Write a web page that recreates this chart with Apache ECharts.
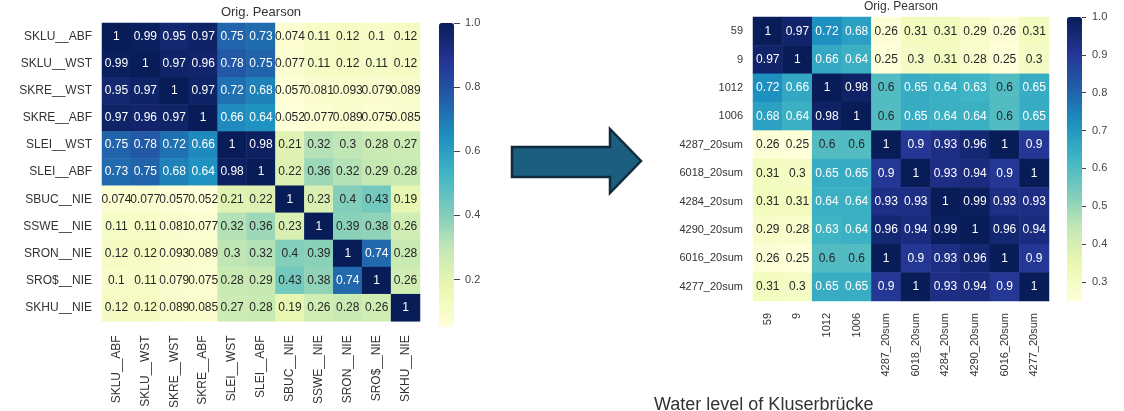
<!DOCTYPE html>
<html><head><meta charset="utf-8">
<script src="https://cdn.jsdelivr.net/npm/echarts@6/dist/echarts.min.js"></script>
<style>html,body{margin:0;padding:0;background:#fff;}#c{width:1124px;height:411px;}</style>
</head><body><div id="c"></div>
<script>
// ---- data ----
var leftLabels = ['SKLU__ABF','SKLU__WST','SKRE__WST','SKRE__ABF','SLEI__WST','SLEI__ABF','SBUC__NIE','SSWE__NIE','SRON__NIE','SRO$__NIE','SKHU__NIE'];
var leftMatrix = [
  [1,0.99,0.95,0.97,0.75,0.73,0.074,0.11,0.12,0.1,0.12],
  [0.99,1,0.97,0.96,0.78,0.75,0.077,0.11,0.12,0.11,0.12],
  [0.95,0.97,1,0.97,0.72,0.68,0.057,0.081,0.093,0.079,0.089],
  [0.97,0.96,0.97,1,0.66,0.64,0.052,0.077,0.089,0.075,0.085],
  [0.75,0.78,0.72,0.66,1,0.98,0.21,0.32,0.3,0.28,0.27],
  [0.73,0.75,0.68,0.64,0.98,1,0.22,0.36,0.32,0.29,0.28],
  [0.074,0.077,0.057,0.052,0.21,0.22,1,0.23,0.4,0.43,0.19],
  [0.11,0.11,0.081,0.077,0.32,0.36,0.23,1,0.39,0.38,0.26],
  [0.12,0.12,0.093,0.089,0.3,0.32,0.4,0.39,1,0.74,0.28],
  [0.1,0.11,0.079,0.075,0.28,0.29,0.43,0.38,0.74,1,0.26],
  [0.12,0.12,0.089,0.085,0.27,0.28,0.19,0.26,0.28,0.26,1]
];
var rightLabels = ['59','9','1012','1006','4287_20sum','6018_20sum','4284_20sum','4290_20sum','6016_20sum','4277_20sum'];
var rightMatrix = [
  [1,0.97,0.72,0.68,0.26,0.31,0.31,0.29,0.26,0.31],
  [0.97,1,0.66,0.64,0.25,0.3,0.31,0.28,0.25,0.3],
  [0.72,0.66,1,0.98,0.6,0.65,0.64,0.63,0.6,0.65],
  [0.68,0.64,0.98,1,0.6,0.65,0.64,0.64,0.6,0.65],
  [0.26,0.25,0.6,0.6,1,0.9,0.93,0.96,1,0.9],
  [0.31,0.3,0.65,0.65,0.9,1,0.93,0.94,0.9,1],
  [0.31,0.31,0.64,0.64,0.93,0.93,1,0.99,0.93,0.93],
  [0.29,0.28,0.63,0.64,0.96,0.94,0.99,1,0.96,0.94],
  [0.26,0.25,0.6,0.6,1,0.9,0.93,0.96,1,0.9],
  [0.31,0.3,0.65,0.65,0.9,1,0.93,0.94,0.9,1]
];
// colour-bar tick axes: [first tick, last tick, step]
var leftTicks = [0.2, 1.0, 0.2];
var rightTicks = [0.3, 1.0, 0.1];
var leftRange = [0.052, 1.0];
var rightRange = [0.25, 1.0];
var titleText = 'Orig. Pearson';
var bottomText = 'Water level of Kluserbrücke';

// ---- build ----
var YlGnBu = ['#ffffd9','#edf8b1','#c7e9b4','#7fcdbb','#41b6c4','#1d91c0','#225ea8','#253494','#081d58'];
var FONT = '"Liberation Sans", Arial, sans-serif';
function build(matrix, range) {
  var out = [];
  for (var r = 0; r < matrix.length; r++) {
    for (var c = 0; c < matrix[r].length; c++) {
      var v = matrix[r][c];
      var t = (v - range[0]) / (range[1] - range[0]);
      out.push({ value: [c, r, v], label: { color: t > 0.49 ? '#ffffff' : '#262626' } });
    }
  }
  return out;
}
function catX(grid, labels, fs, margin) {
  return { gridIndex: grid, type: 'category', data: labels, position: 'bottom',
    axisLine: { show: false }, axisTick: { show: false }, splitLine: { show: false },
    axisLabel: { rotate: 90, fontSize: fs, color: '#333', margin: margin, interval: 0 } };
}
function catY(grid, labels, fs, margin) {
  return { gridIndex: grid, type: 'category', data: labels, inverse: true,
    axisLine: { show: false }, axisTick: { show: false }, splitLine: { show: false },
    axisLabel: { fontSize: fs, color: '#333', margin: margin, interval: 0 } };
}
function cbY(grid, ticks, tickLen, margin, fs) {
  return { gridIndex: grid, type: 'value', min: ticks[0], max: ticks[1], interval: ticks[2], position: 'left', z: 20,
    axisLine: { show: true, lineStyle: { color: 'rgba(0,0,0,0)' } },
    splitLine: { show: false },
    axisTick: { show: true, inside: true, length: tickLen, lineStyle: { color: '#444', width: 1 } },
    axisLabel: { show: true, inside: true, fontSize: fs, color: '#444', margin: margin,
      formatter: function (v) { return Number(v).toFixed(1); } } };
}
// grid spans of the tick axes follow the colour bar scale
var lTop = 23, lH = 304, rTop = 17, rH = 284;
var lTickTop = lTop + lH * (leftRange[1] - leftTicks[1]) / (leftRange[1] - leftRange[0]);
var lTickH = lH * (leftTicks[1] - leftTicks[0]) / (leftRange[1] - leftRange[0]);
var rTickTop = rTop + rH * (rightRange[1] - rightTicks[1]) / (rightRange[1] - rightRange[0]);
var rTickH = rH * (rightTicks[1] - rightTicks[0]) / (rightRange[1] - rightRange[0]);

var chart = echarts.init(document.getElementById('c'), null, { renderer: 'canvas' });
chart.setOption({
  animation: false,
  textStyle: { fontFamily: FONT },
  grid: [
    { left: 102, top: lTop, width: 318, height: lH },
    { left: 753, top: rTop, width: 296, height: rH },
    { left: 454, top: lTickTop, width: 20, height: lTickH },
    { left: 1082, top: rTickTop, width: 20, height: rTickH }
  ],
  xAxis: [
    catX(0, leftLabels, 12, 14),
    catX(1, rightLabels, 11, 12),
    { gridIndex: 2, type: 'value', show: false, min: 0, max: 1 },
    { gridIndex: 3, type: 'value', show: false, min: 0, max: 1 }
  ],
  yAxis: [
    catY(0, leftLabels, 12, 10),
    catY(1, rightLabels, 11, 10),
    cbY(2, leftTicks, 6, 11, 11),
    cbY(3, rightTicks, 4, 10, 11)
  ],
  visualMap: [
    { type: 'continuous', seriesIndex: 0, min: leftRange[0], max: leftRange[1], calculable: false,
      orient: 'vertical', left: 439, top: lTop, itemWidth: 15, itemHeight: lH, padding: 0, z: 1,
      inRange: { color: YlGnBu }, hoverLink: false },
    { type: 'continuous', seriesIndex: 1, min: rightRange[0], max: rightRange[1], calculable: false,
      orient: 'vertical', left: 1067, top: rTop, itemWidth: 15, itemHeight: rH, padding: 0, z: 1,
      inRange: { color: YlGnBu }, hoverLink: false }
  ],
  series: [
    { type: 'heatmap', xAxisIndex: 0, yAxisIndex: 0, data: build(leftMatrix, leftRange),
      label: { show: true, fontSize: 12, fontFamily: FONT }, emphasis: { disabled: true } },
    { type: 'heatmap', xAxisIndex: 1, yAxisIndex: 1, data: build(rightMatrix, rightRange),
      label: { show: true, fontSize: 12, fontFamily: FONT }, emphasis: { disabled: true } }
  ],
  graphic: [
    { type: 'text', x: 261, y: 12, style: { text: titleText, fontSize: 13, fontFamily: FONT, fill: '#333', align: 'center', verticalAlign: 'middle' } },
    { type: 'text', x: 901, y: 7, style: { text: titleText, fontSize: 12, fontFamily: FONT, fill: '#333', align: 'center', verticalAlign: 'middle' } },
    { type: 'polygon', shape: { points: [[512,147],[610,147],[610,129],[641,161],[610,193],[610,177],[512,177]] },
      style: { fill: '#1b5e80', stroke: '#0f2b3c', lineWidth: 2.5, lineJoin: 'miter' } },
    { type: 'text', x: 654, y: 396, style: { text: bottomText, fontSize: 18, fontFamily: FONT, fill: '#333', align: 'left', verticalAlign: 'top' } }
  ]
});
</script></body></html>
